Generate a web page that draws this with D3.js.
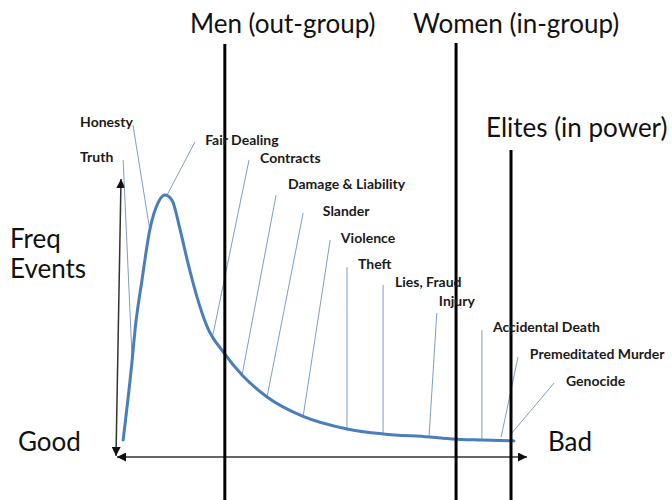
<!DOCTYPE html>
<html>
<head>
<meta charset="utf-8">
<script src="https://cdn.jsdelivr.net/npm/d3@7"></script>
<style>
  body { margin: 0; background: #fff; }
  svg { display: block; }
</style>
</head>
<body>
<div id="chart"></div>
<script>
// Curve: frequency of events along the good -> bad scale (0..100 units)
const severity = [1.5, 3.7, 4.4, 6.1, 8.0, 10.0, 11.7, 13.4, 15.4, 17.3, 19.5, 22.0, 25.9, 30.5, 36.6, 45.4, 56.1, 64.9, 76.1, 81.7, 89.0, 96.8];
const freq     = [6.1, 34.9, 45.7, 63.7, 81.7, 91.4, 94.2, 92.4, 81.7, 69.8, 57.6, 46.8, 37.8, 29.5, 21.6, 14.6, 10.1, 8.3, 7.2, 6.5, 6.1, 5.8];

// Event labels and where their leader lines touch the curve
const eventNames = ['Truth', 'Honesty', 'Fair Dealing', 'Contracts', 'Damage & Liability', 'Slander',
  'Violence', 'Theft', 'Lies, Fraud', 'Injury', 'Accidental Death', 'Premeditated Murder', 'Genocide'];
const labelSev  = [-9.0, -9.0, 21.5, 34.9, 41.7, 50.2, 54.6, 58.8, 67.8, 78.5, 91.7, 100.7, 109.5];
const labelFreq = [106.1, 118.7, 112.2, 105.8, 96.4, 86.7, 77.0, 67.6, 61.2, 54.3, 45.0, 35.3, 25.5];
const leadStartSev  = [1.5, 3.9, 19.0, 32.2, 38.8, 45.4, 52.0, 56.1, 64.9, 78.0, 89.0, 97.8, 106.6];
const leadStartFreq = [106.8, 119.4, 113.3, 106.8, 94.2, 87.8, 78.1, 68.3, 61.9, 51.8, 45.7, 36.0, 26.6];
const leadEndSev  = [3.7, 8.0, 12.2, 23.4, 30.5, 36.6, 45.4, 56.1, 64.9, 76.1, 89.0, 93.7, 96.3];
const leadEndFreq = [34.9, 81.7, 94.2, 44.0, 29.5, 21.6, 14.6, 10.1, 8.3, 7.2, 6.1, 7.2, 8.6];

// Group thresholds (vertical lines)
const groupNames = ['Men (out-group)', 'Women (in-group)', 'Elites (in power)'];
const groupSev   = [26.3, 82.7, 96.1];
const groupTop   = [148.6, 148.9, 110.4];
const groupLabelSev  = [17.8, 72.2, 90.0];
const groupLabelFreq = [152.5, 152.5, 115.1];

const width = 672, height = 500;

const svg = d3.select('#chart')
  .append('svg')
  .attr('width', width)
  .attr('height', height);

const x = d3.scaleLinear().domain([0, 100]).range([117, 527]);
const y = d3.scaleLinear().domain([0, 100]).range([457, 179]);

// arrowhead marker
const defs = svg.append('defs');
defs.append('marker')
  .attr('id', 'arrow')
  .attr('viewBox', '0 0 10 10')
  .attr('refX', 10).attr('refY', 5)
  .attr('markerWidth', 9).attr('markerHeight', 9)
  .attr('markerUnits', 'userSpaceOnUse')
  .attr('orient', 'auto-start-reverse')
  .append('path')
  .attr('d', 'M0,0 L10,5 L0,10 Z')
  .attr('fill', '#111');

// Axes as double-headed arrows
svg.append('line')
  .attr('x1', x(0)).attr('x2', x(100))
  .attr('y1', y(0)).attr('y2', y(0))
  .attr('stroke', '#333').attr('stroke-width', 1.5)
  .attr('marker-start', 'url(#arrow)')
  .attr('marker-end', 'url(#arrow)');

svg.append('line')
  .attr('x1', x(-0.24)).attr('x2', x(0.98))
  .attr('y1', y(0.4)).attr('y2', y(100))
  .attr('stroke', '#333').attr('stroke-width', 1.5)
  .attr('marker-start', 'url(#arrow)')
  .attr('marker-end', 'url(#arrow)');

// Leader lines
const leaders = eventNames.map((d, i) => ({
  name: d,
  lx: labelSev[i], ly: labelFreq[i],
  sx: leadStartSev[i], sy: leadStartFreq[i],
  ex: leadEndSev[i], ey: leadEndFreq[i]
}));

svg.append('g')
  .selectAll('line')
  .data(leaders)
  .join('line')
  .attr('x1', d => x(d.sx)).attr('y1', d => y(d.sy))
  .attr('x2', d => x(d.ex)).attr('y2', d => y(d.ey))
  .attr('stroke', '#7f9dc4')
  .attr('stroke-width', 1);

// Curve
const pts = severity.map((s, i) => [s, freq[i]]);
svg.append('path')
  .datum(pts)
  .attr('fill', 'none')
  .attr('stroke', '#4a7ebb')
  .attr('stroke-width', 3)
  .attr('stroke-linecap', 'round')
  .attr('d', d3.line().x(d => x(d[0])).y(d => y(d[1])).curve(d3.curveMonotoneX));

// Group lines
svg.append('g')
  .selectAll('line')
  .data(groupSev)
  .join('line')
  .attr('x1', d => x(d)).attr('x2', d => x(d))
  .attr('y1', (d, i) => y(groupTop[i]))
  .attr('y2', height)
  .attr('stroke', '#000')
  .attr('stroke-width', 3);

// Event labels
svg.append('g')
  .selectAll('text')
  .data(leaders)
  .join('text')
  .attr('x', d => x(d.lx))
  .attr('y', d => y(d.ly))
  .style('font-family', 'Lato, "Open Sans", sans-serif')
  .style('font-weight', 'bold')
  .style('font-size', '14px')
  .attr('fill', '#1a1a1a')
  .text(d => d.name);

// Group labels
svg.append('g')
  .selectAll('text')
  .data(groupNames)
  .join('text')
  .attr('x', (d, i) => x(groupLabelSev[i]))
  .attr('y', (d, i) => y(groupLabelFreq[i]))
  .style('font-family', 'Lato, "Open Sans", sans-serif')
  .style('font-size', '26px')
  .attr('fill', '#111')
  .text(d => d);

// Axis titles
const big = g => g.style('font-family', 'Lato, "Open Sans", sans-serif')
  .style('font-size', '26px').attr('fill', '#111');
svg.append('text').attr('x', 10).attr('y', 248).call(big).text('Freq');
svg.append('text').attr('x', 10).attr('y', 278).call(big).text('Events');
svg.append('text').attr('x', 18).attr('y', 451).call(big).text('Good');
svg.append('text').attr('x', 548).attr('y', 451).call(big).text('Bad');
</script>
</body>
</html>
